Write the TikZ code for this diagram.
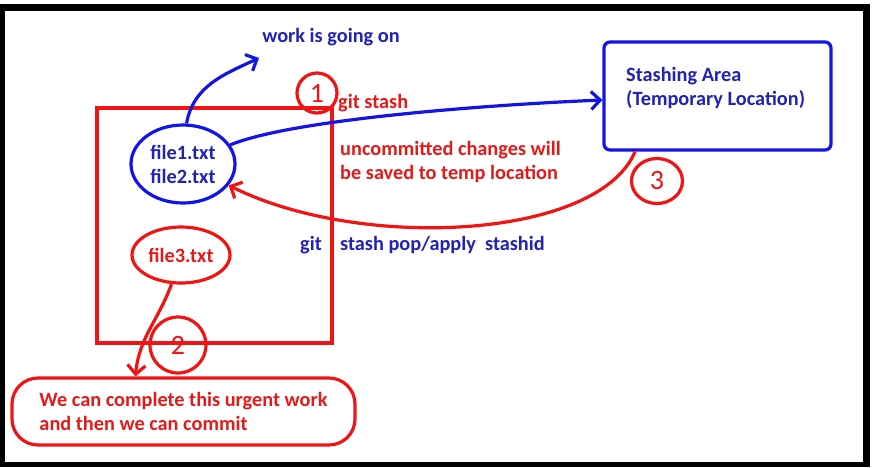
\documentclass[tikz,border=0pt]{standalone}
\usepackage{fontspec}
\setmainfont{Carlito}
\usetikzlibrary{arrows.meta, shapes.geometric}
\definecolor{penred}{HTML}{F01414}
\definecolor{penblue}{HTML}{1414E6}
\definecolor{inkblue}{HTML}{2222B4}
\definecolor{inkred}{HTML}{E41A1A}
\tikzset{
  bluetxt/.style={text=inkblue, font=\fontsize{20.3}{24}\selectfont\bfseries, inner sep=0pt, align=left},
  redtxt/.style={text=inkred, font=\fontsize{20.3}{24}\selectfont\bfseries, inner sep=0pt, align=left},
  redpen/.style={draw=penred, line width=3.2pt},
  bluepen/.style={draw=penblue, line width=3.2pt},
  badge/.style={redpen, text=penred, font=\fontsize{28}{28}\selectfont, inner sep=0pt},
  barb/.style={-{Straight Barb[length=9pt,width=18pt]}}
}
\begin{document}
\begin{tikzpicture}[x=1pt,y=-1pt]
  \useasboundingbox (0,0) rectangle (872,467);
  \fill[black] (0,4) rectangle (870,467);
  \fill[white] (5,11) rectangle (863,462);
  % working directory
  \node[redpen, minimum width=235pt, minimum height=235pt] (workdir) at (214.5,225.5) {};
  \node[ellipse, bluepen, bluetxt, minimum width=104pt, minimum height=78pt] (tracked) at (183,164) {file1.txt\\file2.txt};
  \node[ellipse, redpen, redtxt, minimum width=98pt, minimum height=56pt] (urgent) at (181,255) {file3.txt};
  % stash area
  \node[bluepen, rounded corners=6pt, minimum width=227pt, minimum height=108pt] (stasharea) at (717.5,96) {};
  \node[bluetxt, anchor=west] (stashtxt) at (626,88) {Stashing Area\\(Temporary Location)};
  % labels
  \node[bluetxt] (going) at (331,37) {work is going on};
  \node[badge, circle, minimum size=40pt] (badge1) at (317,93) {1};
  \node[redtxt, anchor=west] (stashcmd) at (338,103) {git stash};
  \node[redtxt, anchor=west] (saved) at (340,162) {uncommitted changes will\\be saved to temp location};
  \node[badge, ellipse, minimum width=51pt, minimum height=45pt] (badge3) at (657,181) {3};
  \node[bluetxt] (gitword) at (311,245) {git};
  \node[bluetxt, anchor=west] (popcmd) at (340,245) {stash pop/apply\ \ stashid};
  \node[badge, circle, minimum size=56pt] (badge2) at (178,345) {2};
  \node[redpen, redtxt, rounded corners=26pt, minimum width=343pt, minimum height=67pt] (note) at (183.5,411.5) {We can complete this urgent work\\and then we can commit};
  % connectors
  \coordinate (workend) at (259,58);
  \draw[bluepen, barb] (tracked.85) to[out=80,in=205] (workend);
  \draw[bluepen, barb] (tracked.22) .. controls +(60,-25) and +(-120,5) .. ([yshift=-4pt]stasharea.west);
  \draw[redpen, barb] (stasharea.214) .. controls +(-37,88) and +(132,66) .. (tracked.-25);
  \draw[redpen, barb] (urgent.-108) to[out=-110,in=85] ([xshift=-48pt]note.north);
\end{tikzpicture}
\end{document}
